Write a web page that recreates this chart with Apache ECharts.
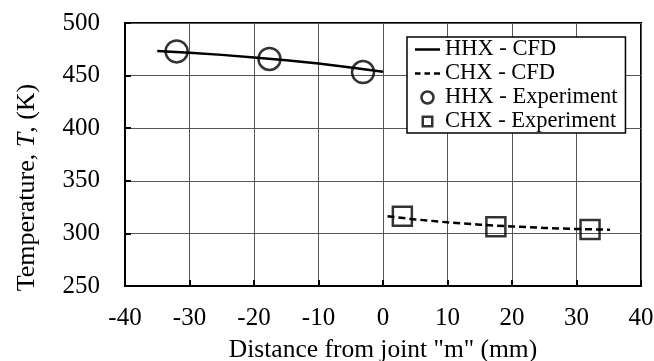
<!DOCTYPE html>
<html>
<head>
<meta charset="utf-8">
<script src="https://cdn.jsdelivr.net/npm/echarts@6/dist/echarts.min.js"></script>
<style>html,body{margin:0;padding:0;background:#fff;}#c{width:654px;height:361px;}</style>
</head>
<body>
<div id="c"></div>
<script>
// Data
const xTicks = [-40, -30, -20, -10, 0, 10, 20, 30, 40];
const yTicks = [250, 300, 350, 400, 450, 500];
const seriesNames = ['HHX - CFD', 'CHX - CFD', 'HHX - Experiment', 'CHX - Experiment'];

const hhxCfdX = [-35, -30, -25, -20, -15, -10, -5, 0];
const hhxCfdY = [473.4, 471.8, 469.7, 467.3, 464.6, 461.4, 457.6, 453.6];

const chxCfdX = [0.7, 5, 10, 15, 20, 25, 30, 35.2];
const chxCfdY = [316.3, 313.3, 310.5, 308.3, 306.6, 305.2, 304.2, 303.5];

const hhxExpX = [-32.0, -17.6, -3.1];
const hhxExpY = [473.0, 465.8, 453.4];

const chxExpX = [3.0, 17.5, 32.1];
const chxExpY = [316.4, 306.3, 303.7];

const zip = (xs, ys) => xs.map((x, i) => [x, ys[i]]);

const FONT = '"Liberation Serif", "Times New Roman", serif';
const chart = echarts.init(document.getElementById('c'), null, {renderer: 'canvas'});

// bounding-box corner dots keep the icon paths at the full 25x12 legend box
const BOX = 'M0,0h0.01v0.01h-0.01z M24.99,11.99h0.01v0.01h-0.01z ';

chart.setOption({
  animation: false,
  backgroundColor: '#fff',
  textStyle: {fontFamily: FONT, color: '#000'},
  grid: {
    left: 125, right: 13, top: 23, bottom: 75,
    show: true, borderColor: '#000', borderWidth: 2, backgroundColor: 'transparent',
    containLabel: false, outerBoundsMode: 'none'
  },
  legend: {
    left: 407, top: 37,
    orient: 'vertical',
    backgroundColor: '#fff',
    borderColor: '#000', borderWidth: 1.5,
    padding: [1, 8, 0, 8],
    itemGap: 1,
    itemWidth: 25, itemHeight: 12,
    textStyle: {fontFamily: FONT, fontSize: 22.5, color: '#000'},
    data: [
      {name: seriesNames[0], icon: 'path://' + BOX + 'M0,4.8h25v2.4h-25z',
       itemStyle: {color: '#000', borderWidth: 0}},
      {name: seriesNames[1], icon: 'path://' + BOX + 'M0,4.8h5.5v2.4h-5.5z M9.5,4.8h5.5v2.4h-5.5z M19,4.8h6v2.4h-6z',
       itemStyle: {color: '#000', borderWidth: 0}},
      {name: seriesNames[2], icon: 'circle',
       itemStyle: {color: '#fff', borderColor: '#000', borderWidth: 2.5}},
      {name: seriesNames[3], icon: 'path://' + BOX + 'M6.5,0h12v12h-12z M9,2.5v7h7v-7z',
       itemStyle: {color: '#000', borderWidth: 0}}
    ]
  },
  xAxis: {
    type: 'value', min: -40, max: 40, interval: 10,
    name: 'Distance from joint "m" (mm)',
    nameLocation: 'middle', nameGap: 51,
    nameTextStyle: {fontFamily: FONT, fontSize: 25.5, color: '#000'},
    axisLine: {show: true, onZero: false, lineStyle: {color: '#000', width: 2}},
    axisTick: {show: true, inside: true, length: 6, lineStyle: {color: '#000', width: 2}},
    axisLabel: {fontFamily: FONT, fontSize: 25, color: '#000', margin: 20,
      formatter: v => xTicks.includes(v) ? String(v) : ''},
    splitLine: {show: true, lineStyle: {color: '#555', width: 1}}
  },
  yAxis: {
    type: 'value', min: 250, max: 500, interval: 50,
    name: '{a|Temperature, }{b|T}{a|, (K)}',
    nameLocation: 'middle', nameGap: 85, nameRotate: 90,
    nameTextStyle: {fontFamily: FONT, fontSize: 26, color: '#000', padding: [0, 66, 0, 0],
      rich: {
        a: {fontFamily: FONT, fontSize: 26, color: '#000'},
        b: {fontFamily: FONT, fontSize: 26, color: '#000', fontStyle: 'italic'}
      }},
    axisLine: {show: true, onZero: false, lineStyle: {color: '#000', width: 2}},
    axisTick: {show: true, inside: true, length: 6, lineStyle: {color: '#000', width: 2}},
    axisLabel: {fontFamily: FONT, fontSize: 25, color: '#000', margin: 25,
      formatter: v => yTicks.includes(v) ? String(v) : ''},
    splitLine: {show: true, lineStyle: {color: '#555', width: 1}}
  },
  series: [
    {
      name: seriesNames[0], type: 'line', data: zip(hhxCfdX, hhxCfdY),
      smooth: false, symbol: 'none', z: 3,
      lineStyle: {color: '#000', width: 2.5, type: 'solid'}, itemStyle: {color: '#000'}
    },
    {
      name: seriesNames[1], type: 'line', data: zip(chxCfdX, chxCfdY),
      smooth: false, symbol: 'none', z: 3,
      lineStyle: {color: '#000', width: 2.5, type: [7, 4]}, itemStyle: {color: '#000'}
    },
    {
      name: seriesNames[2], type: 'scatter', data: zip(hhxExpX, hhxExpY),
      symbol: 'circle', symbolSize: 22, z: 4,
      itemStyle: {color: 'rgba(255,255,255,0)', borderColor: '#000', borderWidth: 2.5}
    },
    {
      name: seriesNames[3], type: 'scatter', data: zip(chxExpX, chxExpY),
      symbol: 'rect', symbolSize: 19, z: 4,
      itemStyle: {color: 'rgba(255,255,255,0)', borderColor: '#000', borderWidth: 2.5}
    }
  ]
});
</script>
</body>
</html>
